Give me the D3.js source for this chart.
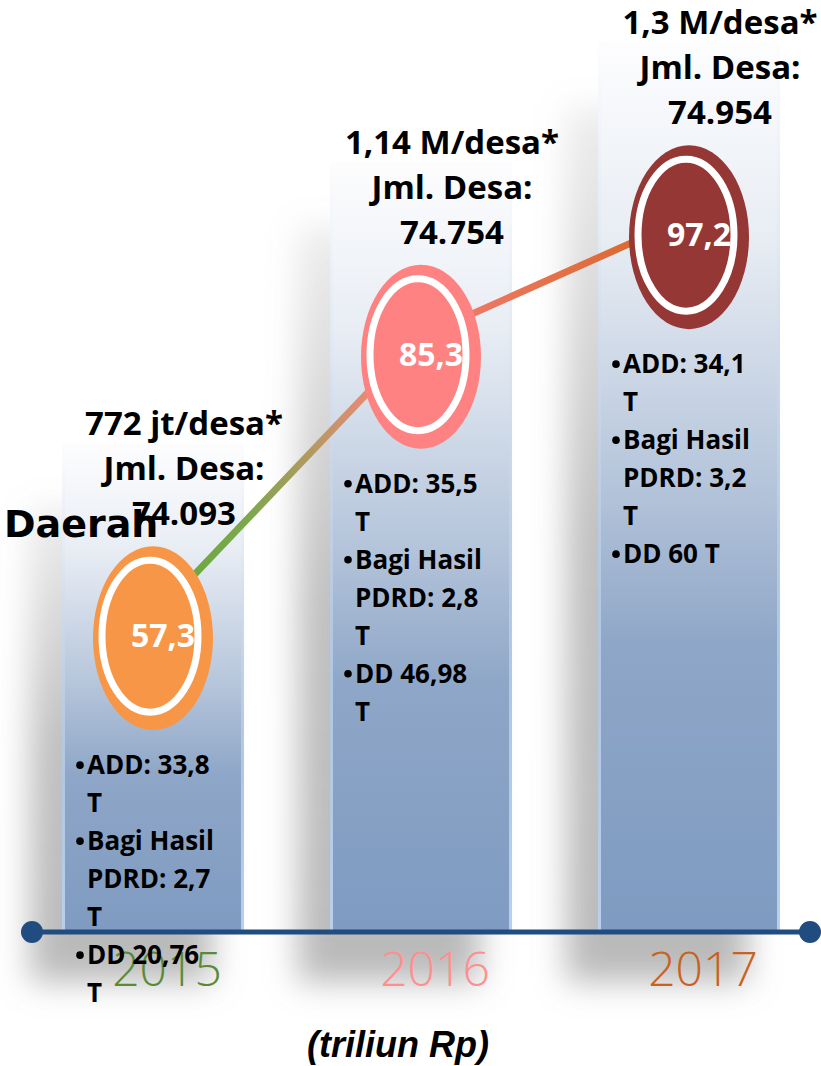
<!DOCTYPE html>
<meta charset="utf-8">
<body style="margin:0;background:#fff">
<script src="https://d3js.org/d3.v7.min.js"></script>
<script>

// data
var years = ["2015", "2016", "2017"];
var totals = [57.3, 85.3, 97.2];
var perDesa = ["772 jt/desa*", "1,14 M/desa*", "1,3 M/desa*"];
var jmlDesa = ["74.093", "74.754", "74.954"];
var add = ["33,8", "35,5", "34,1"];
var bagiHasil = ["2,7", "2,8", "3,2"];
var dd = ["20,76", "46,98", "60"];

var width = 821,
    height = 1066,
    baseY = 932,
    barW = 182;

var svg = d3.select("body").append("svg")
    .attr("width", width)
    .attr("height", height)
    .style("display", "block");

var x = d3.scalePoint().domain(years).range([153, 689]);
var y = d3.scaleLinear().domain([0, 100]).range([1214, 209]);

var ellColor = d3.scaleOrdinal().domain(years).range(["#f79646", "#fe8282", "#953735"]);
var yearColor = d3.scaleOrdinal().domain(years).range(["#5a8a36", "#ff8f8f", "#c9611f"]);

var data = years.map(function(d, i) {
  return {year: d, total: totals[i], perDesa: perDesa[i], jml: jmlDesa[i],
          add: add[i], bh: bagiHasil[i], dd: dd[i]};
});

var defs = svg.append("defs");

defs.append("filter").attr("id", "blur")
    .attr("x", "-50%").attr("y", "-50%").attr("width", "200%").attr("height", "200%")
  .append("feGaussianBlur").attr("stdDeviation", 16);

var bg = defs.append("linearGradient").attr("id", "barGrad")
    .attr("x1", 0).attr("y1", 0).attr("x2", 0).attr("y2", 1);
[[0, "#fdfdfe"], [0.22, "#e8edf4"], [0.5, "#b4c4da"], [0.68, "#8ea6c7"], [1, "#7f9bc1"]]
  .forEach(function(s) { bg.append("stop").attr("offset", s[0]).attr("stop-color", s[1]); });

var eg = defs.append("linearGradient").attr("id", "edgeGrad")
    .attr("x1", 0).attr("y1", 0).attr("x2", 0).attr("y2", 1);
eg.append("stop").attr("offset", 0).attr("stop-color", "#d5e2f3").attr("stop-opacity", 0);
eg.append("stop").attr("offset", 1).attr("stop-color", "#b8d0ee").attr("stop-opacity", 1);

var sg = defs.append("linearGradient").attr("id", "shadowGrad")
    .attr("x1", 0).attr("y1", 0).attr("x2", 0).attr("y2", 1);
sg.append("stop").attr("offset", 0).attr("stop-color", "#8c8c8c").attr("stop-opacity", 0.15);
sg.append("stop").attr("offset", 0.5).attr("stop-color", "#8c8c8c").attr("stop-opacity", 0.55);
sg.append("stop").attr("offset", 1).attr("stop-color", "#8c8c8c").attr("stop-opacity", 0.6);

var lg = defs.append("linearGradient").attr("id", "lineGrad")
    .attr("gradientUnits", "userSpaceOnUse")
    .attr("x1", x(years[0])).attr("y1", 0)
    .attr("x2", x(years[2])).attr("y2", 0);
[[0, "#63a83c"], [0.18, "#7da84c"], [0.42, "#f08878"], [0.55, "#f07a6c"], [1, "#d6651e"]]
  .forEach(function(s) { lg.append("stop").attr("offset", s[0]).attr("stop-color", s[1]); });

// shadows
svg.append("g").selectAll("rect")
  .data(data)
  .enter().append("rect")
    .attr("x", function(d) { return x(d.year) - barW / 2 - 32; })
    .attr("y", function(d) { return y(d.total) - 130; })
    .attr("width", barW)
    .attr("height", function(d) { return baseY - y(d.total) + 180; })
    .attr("fill", "url(#shadowGrad)")
    .attr("filter", "url(#blur)");

// bars
var bars = svg.append("g").selectAll("g")
  .data(data)
  .enter().append("g");

bars.append("rect")
    .attr("x", function(d) { return x(d.year) - barW / 2; })
    .attr("y", function(d) { return y(d.total) - 195; })
    .attr("width", barW)
    .attr("height", function(d) { return baseY - y(d.total) + 195; })
    .attr("fill", "url(#barGrad)");

bars.selectAll("rect.edge")
  .data(function(d) { return [d, d]; })
  .enter().append("rect")
    .attr("class", "edge")
    .attr("x", function(d, i) { return x(d.year) + (i ? barW / 2 - 3 : -barW / 2); })
    .attr("y", function(d) { return y(d.total) - 195; })
    .attr("width", 3)
    .attr("height", function(d) { return baseY - y(d.total) + 195; })
    .attr("fill", "url(#edgeGrad)");

// axis line
var x0 = x.range()[0] - 121, x1 = x.range()[1] + 121;
svg.append("line")
    .attr("x1", x0).attr("x2", x1)
    .attr("y1", baseY).attr("y2", baseY)
    .attr("stroke", "#214c80")
    .attr("stroke-width", 5);
svg.append("g").selectAll("circle")
  .data([x0, x1])
  .enter().append("circle")
    .attr("cx", function(d) { return d; })
    .attr("cy", baseY)
    .attr("r", 11)
    .attr("fill", "#214c80");

// year labels
svg.append("g").selectAll("text")
  .data(data)
  .enter().append("text")
    .attr("x", function(d) { return x(d.year) + 14; })
    .attr("y", 986)
    .attr("text-anchor", "middle")
    .style("font-family", "'Open Sans', Lato, sans-serif")
    .style("font-weight", 300)
    .style("font-size", "48px")
    .attr("fill", function(d) { return yearColor(d.year); })
    .text(function(d) { return d.year; });

// trend line
var line = d3.line()
    .x(function(d) { return x(d.year); })
    .y(function(d) { return y(d.total) - 20; });

svg.append("path")
    .datum(data)
    .attr("d", line)
    .attr("fill", "none")
    .attr("stroke", "url(#lineGrad)")
    .attr("stroke-width", 7);

// ellipses
var ell = svg.append("g").selectAll("g")
  .data(data)
  .enter().append("g");

ell.append("ellipse")
    .attr("cx", function(d) { return x(d.year); })
    .attr("cy", function(d) { return y(d.total); })
    .attr("rx", 60)
    .attr("ry", 92)
    .attr("fill", function(d) { return ellColor(d.year); });

ell.append("ellipse")
    .attr("cx", function(d) { return x(d.year) - 3; })
    .attr("cy", function(d) { return y(d.total) - 2; })
    .attr("rx", 48)
    .attr("ry", 76)
    .attr("fill", "none")
    .attr("stroke", "#fff")
    .attr("stroke-width", 7);

ell.append("text")
    .attr("x", function(d) { return x(d.year) + 10; })
    .attr("y", function(d) { return y(d.total) + 9; })
    .attr("text-anchor", "middle")
    .style("font-family", "'Open Sans', sans-serif")
    .style("font-weight", 700)
    .style("font-size", "32px")
    .attr("fill", "#fff")
    .text(function(d) { return d3.format(".1f")(d.total).replace(".", ","); });

// labels above ellipses
var head = svg.append("g").selectAll("text")
  .data(data)
  .enter().append("text")
    .attr("text-anchor", "middle")
    .style("font-family", "'Open Sans', sans-serif")
    .style("font-weight", 700)
    .style("font-size", "33px")
    .attr("fill", "#000");

head.selectAll("tspan")
  .data(function(d) { return [d.perDesa, "Jml. Desa:", d.jml].map(function(t) { return {t: t, d: d}; }); })
  .enter().append("tspan")
    .attr("x", function(o) { return x(o.d.year) + 31; })
    .attr("y", function(o, i) { return y(o.d.total) - 203 + i * 45; })
    .text(function(o) { return o.t; });

// "Daerah"
svg.append("text")
    .attr("x", 4)
    .attr("y", 537)
    .style("font-family", "'DejaVu Sans', sans-serif")
    .style("font-weight", 700)
    .style("font-size", "38px")
    .attr("fill", "#000")
    .text("Daerah");

// bullet lists
var maxW = 129;
function bulletText(g, bx, yy, s) {
  return g.append("text")
      .attr("x", bx + 10)
      .attr("y", yy)
      .style("font-family", "'Open Sans', sans-serif")
      .style("font-weight", 700)
      .style("font-size", "26px")
      .attr("fill", "#000")
      .text(s);
}
data.forEach(function(d) {
  var items = ["ADD: " + d.add + " T", "Bagi Hasil PDRD: " + d.bh + " T", "DD " + d.dd + " T"];
  var bx = x(d.year) - barW / 2 + 15;
  var by = y(d.total) + 136;
  var g = svg.append("g");
  var row = 0;
  items.forEach(function(item) {
    g.append("circle")
        .attr("cx", bx + 3)
        .attr("cy", by + row * 38 - 9)
        .attr("r", 3.8)
        .attr("fill", "#000");
    var words = item.split(" ");
    var cur = [];
    var t = bulletText(g, bx, by + row * 38, "");
    words.forEach(function(w) {
      cur.push(w);
      t.text(cur.join(" "));
      if (t.node().getComputedTextLength() > maxW && cur.length > 1) {
        cur.pop();
        t.text(cur.join(" "));
        row++;
        cur = [w];
        t = bulletText(g, bx, by + row * 38, w);
      }
    });
    row++;
  });
});

// unit
svg.append("text")
    .attr("x", 398)
    .attr("y", 1057)
    .attr("text-anchor", "middle")
    .style("font-family", "'Liberation Sans', Arial, sans-serif")
    .style("font-weight", 700)
    .style("font-style", "italic")
    .style("font-size", "36px")
    .attr("fill", "#000")
    .text("(triliun Rp)");

</script>
</body>
